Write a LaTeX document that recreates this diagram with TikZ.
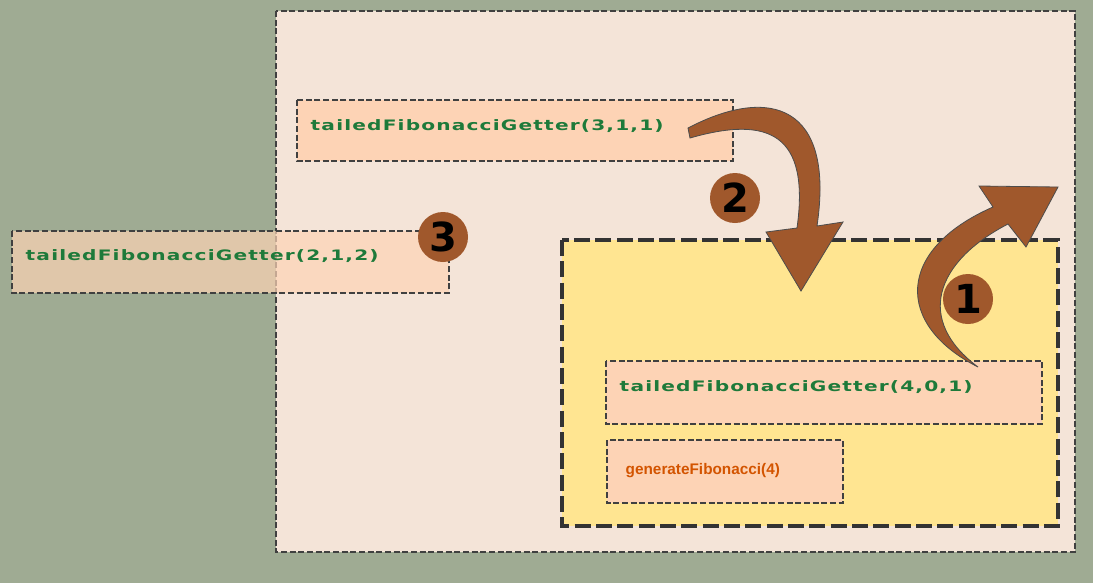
\documentclass[tikz,border=0pt]{standalone}
\usepackage{fontspec}
\setmainfont{DejaVu Sans}
\newfontfamily\arialf{Liberation Sans}
\newfontfamily\widef[FakeStretch=1.4,LetterSpace=8]{DejaVu Sans}
\begin{document}
\begin{tikzpicture}[x=0.75pt,y=-0.75pt]
\definecolor{bgc}{HTML}{9FAB93}
\definecolor{framec}{HTML}{F4E4D8}
\definecolor{boxc}{HTML}{FDD3B5}
\definecolor{yel}{HTML}{FFE591}
\definecolor{brn}{HTML}{A0582C}
\definecolor{grn}{HTML}{1E7A3A}
\definecolor{org}{HTML}{D35400}
\tikzset{
 callbox/.style={draw=black!75,dash pattern=on 4.5pt off 2pt,fill=boxc,line width=0.9pt},
 lbl/.style={text=grn,font=\widef\bfseries\fontsize{10.8}{12}\selectfont,anchor=west},
 numc/.style={circle,fill=brn,minimum size=37.5pt,inner sep=0pt,font=\bfseries\fontsize{30}{30}\selectfont,text=black},
 arrowshape/.style={fill=brn,draw=black!70,line width=0.6pt}
}
\fill[bgc] (0,0) rectangle (1093,583);
\useasboundingbox (0,0) rectangle (1093,583);
\draw[fill=framec,draw=black!75,dash pattern=on 4.5pt off 2pt,line width=0.8pt] (276,11) rectangle (1075,552);
\draw[callbox] (297,100) rectangle (733,161);
\node[lbl] (t1) at (306,126) {tailedFibonacciGetter(3,1,1)};
\draw[fill=yel,draw=black!80,dash pattern=on 12pt off 4pt,line width=3pt] (562,240) rectangle (1058,526);
\draw[callbox] (606,361) rectangle (1042,424);
\node[lbl] (t4) at (615,387) {tailedFibonacciGetter(4,0,1)};
\draw[callbox] (607,440) rectangle (843,503);
\node[anchor=west,text=org,font=\arialf\bfseries\fontsize{11.5}{13}\selectfont] (g) at (621,471) {generateFibonacci(4)};
\draw[callbox,fill opacity=0.7] (12,231) rectangle (449,293);
\node[lbl] (t3) at (21,256) {tailedFibonacciGetter(2,1,2)};
% arrow 2
\draw[arrowshape] (688,128) .. controls (770,85) and (835,105) .. (817,226)
  -- (843,222) -- (801,291) -- (766,232) -- (797,228)
  .. controls (810,135) and (770,115) .. (690,138) -- cycle;
% arrow 1
\draw[arrowshape] (978,367) .. controls (895,325) and (895,250) .. (993,207)
  -- (979,186) -- (1058,187) -- (1026,247) -- (1008,224)
  .. controls (935,262) and (915,320) .. (978,367) -- cycle;
\node[numc] (n2) at (735,198) {2};
\node[numc] (n3) at (443,237) {3};
\node[numc] (n1) at (968,299) {1};
\end{tikzpicture}
\end{document}
